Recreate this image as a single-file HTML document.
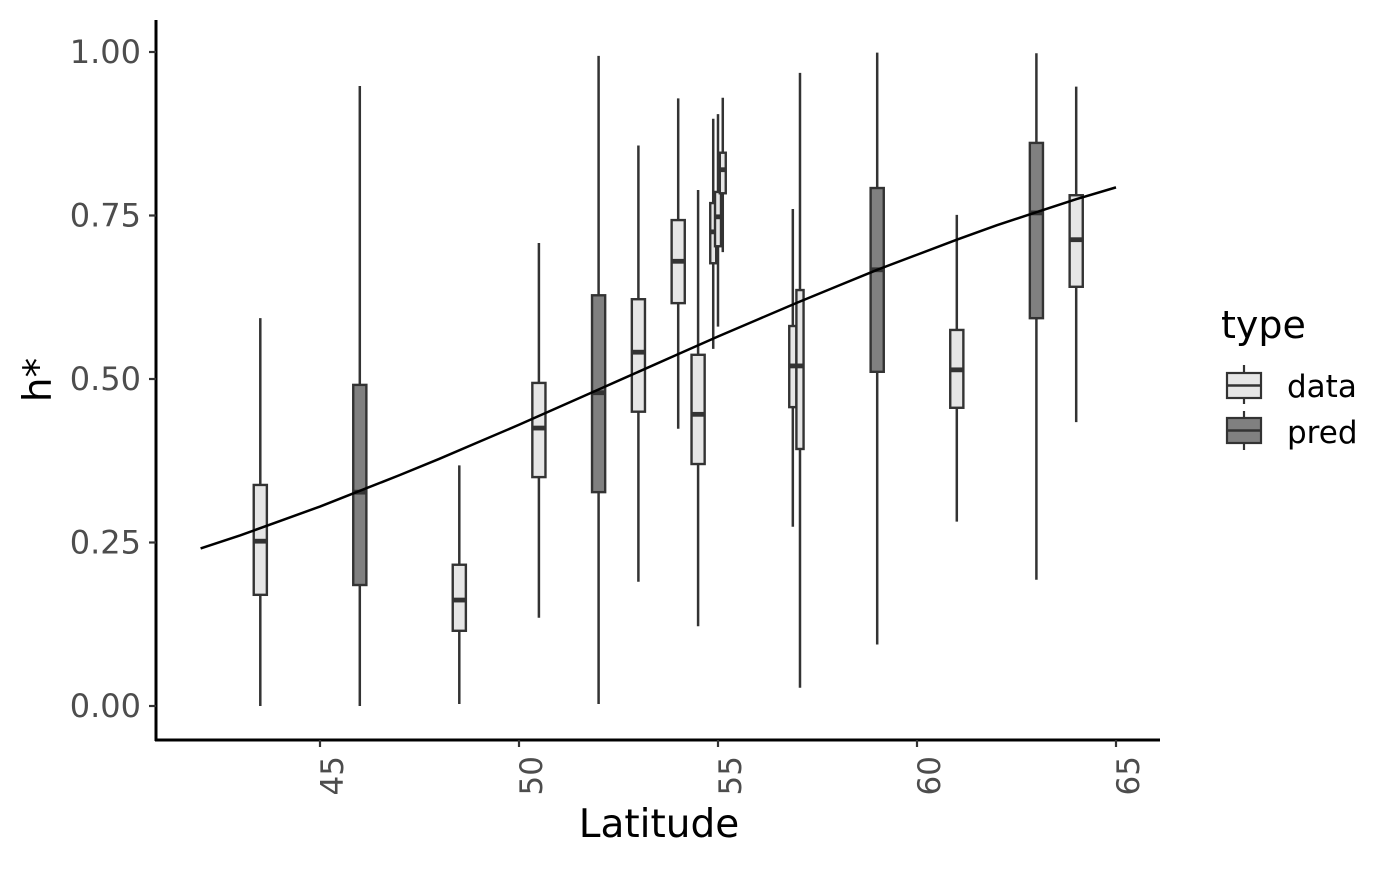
<!DOCTYPE html>
<html><head><meta charset="utf-8"><style>
body{margin:0;background:#fff;}
svg text{font-family:"DejaVu Sans","Liberation Sans",sans-serif;}
</style></head><body>
<svg id="chart" width="1400" height="865" xmlns="http://www.w3.org/2000/svg">
<g id="marks"></g>
<line x1="156" y1="20" x2="156" y2="741" stroke="#000" stroke-width="3"/>
<line x1="155" y1="740" x2="1160" y2="740" stroke="#000" stroke-width="3"/>
<g id="axes"></g>
<text x="659" y="837" font-size="39" text-anchor="middle" fill="#000">Latitude</text>
<text transform="translate(51,380) rotate(-90)" font-size="39" text-anchor="middle" fill="#000">h*</text>
<g>
<text x="1221" y="338" font-size="38" fill="#000">type</text>
<g>
<line x1="1244" y1="365" x2="1244" y2="404" stroke="#333" stroke-width="2.2"/>
<rect x="1227" y="373" width="34" height="25" fill="#e6e6e6" stroke="#333" stroke-width="2.2"/>
<line x1="1227" y1="385.5" x2="1261" y2="385.5" stroke="#333" stroke-width="2.5"/>
<text x="1287" y="397" font-size="31" fill="#000">data</text>
</g>
<g>
<line x1="1244" y1="411" x2="1244" y2="450" stroke="#333" stroke-width="2.2"/>
<rect x="1227" y="418" width="34" height="25" fill="#808080" stroke="#333" stroke-width="2.2"/>
<line x1="1227" y1="430.5" x2="1261" y2="430.5" stroke="#333" stroke-width="2.5"/>
<text x="1287" y="443" font-size="31" fill="#000">pred</text>
</g>
</g>
</svg>
<script>
const lats=[43.5,46,48.5,50.5,52,53,54,54.5,54.88,55.0,55.12,56.88,57.06,59,61,63,64];
const types=["data","pred","data","data","pred","data","data","data","data","data","data","data","data","pred","data","pred","data"];
const wLo=[0.0,0.0,0.003,0.135,0.003,0.19,0.424,0.122,0.546,0.58,0.694,0.274,0.028,0.094,0.282,0.193,0.434];
const q1=[0.17,0.185,0.115,0.35,0.327,0.45,0.616,0.37,0.677,0.703,0.784,0.457,0.393,0.511,0.456,0.593,0.641];
const med=[0.252,0.327,0.162,0.425,0.479,0.541,0.68,0.446,0.725,0.748,0.82,0.52,0.52,0.667,0.514,0.754,0.713];
const q3=[0.338,0.491,0.216,0.494,0.628,0.622,0.743,0.537,0.769,0.786,0.846,0.581,0.636,0.792,0.575,0.861,0.781];
const wHi=[0.593,0.948,0.368,0.708,0.994,0.857,0.929,0.789,0.898,0.905,0.93,0.76,0.968,0.999,0.751,0.998,0.947];
const boxW=[0.33,0.33,0.33,0.33,0.33,0.33,0.33,0.33,0.15,0.15,0.15,0.18,0.18,0.33,0.33,0.33,0.33];
const curveX=[42,43,44,45,46,47,48,49,50,51,52,53,54,55,56,57,58,59,60,61,62,63,64,65];
const curveY=[.241,.261,.283,.305,.329,.353,.378,.404,.430,.457,.484,.511,.538,.565,.591,.617,.642,.667,.690,.713,.735,.755,.775,.793];
const xTicks=[45,50,55,60,65];
const yTicks=[0,0.25,0.5,0.75,1.0];
const yTickLabels=["0.00","0.25","0.50","0.75","1.00"];

const NS="http://www.w3.org/2000/svg";
const X=v=>320+(v-45)*39.8;
const Y=v=>706-v*654;
const marks=document.getElementById('marks');
const axes=document.getElementById('axes');
function mk(tag,attrs,parent){const e=document.createElementNS(NS,tag);for(const k in attrs)e.setAttribute(k,attrs[k]);parent.appendChild(e);return e;}

for(let i=0;i<lats.length;i++){
  const g=mk('g',{},marks);
  
  
  const cx=X(lats[i]),hw=boxW[i]*39.8/2;
  mk('line',{x1:cx,x2:cx,y1:Y(wHi[i]),y2:Y(wLo[i]),stroke:'#333','stroke-width':2.5},g);
  mk('rect',{x:cx-hw,y:Y(q3[i]),width:2*hw,height:Y(q1[i])-Y(q3[i]),fill:types[i]=='data'?'#e6e6e6':'#808080',stroke:'#333','stroke-width':2.4},g);
  mk('line',{x1:cx-hw,x2:cx+hw,y1:Y(med[i]),y2:Y(med[i]),stroke:'#333','stroke-width':4.8},g);
}
const pts=curveX.map((x,i)=>X(x)+','+Y(curveY[i])).join(' ');
const pl=mk('polyline',{points:pts,fill:'none',stroke:'#000','stroke-width':2.5},marks);



yTicks.forEach((v,i)=>{
  mk('line',{x1:149,x2:156,y1:Y(v),y2:Y(v),stroke:'#333','stroke-width':2.2},axes);
  const t=mk('text',{x:141,y:Y(v)+11,'font-size':32,'text-anchor':'end',fill:'#4d4d4d'},axes);
  t.textContent=yTickLabels[i];
  
  
});
xTicks.forEach(v=>{
  mk('line',{x1:X(v),x2:X(v),y1:740,y2:747,stroke:'#333','stroke-width':2.2},axes);
  const t=mk('text',{transform:'translate('+(X(v)+23)+',756) rotate(-90)','font-size':31,'text-anchor':'end',fill:'#4d4d4d'},axes);
  t.textContent=String(v);
  
  
});
</script>
</body></html>
